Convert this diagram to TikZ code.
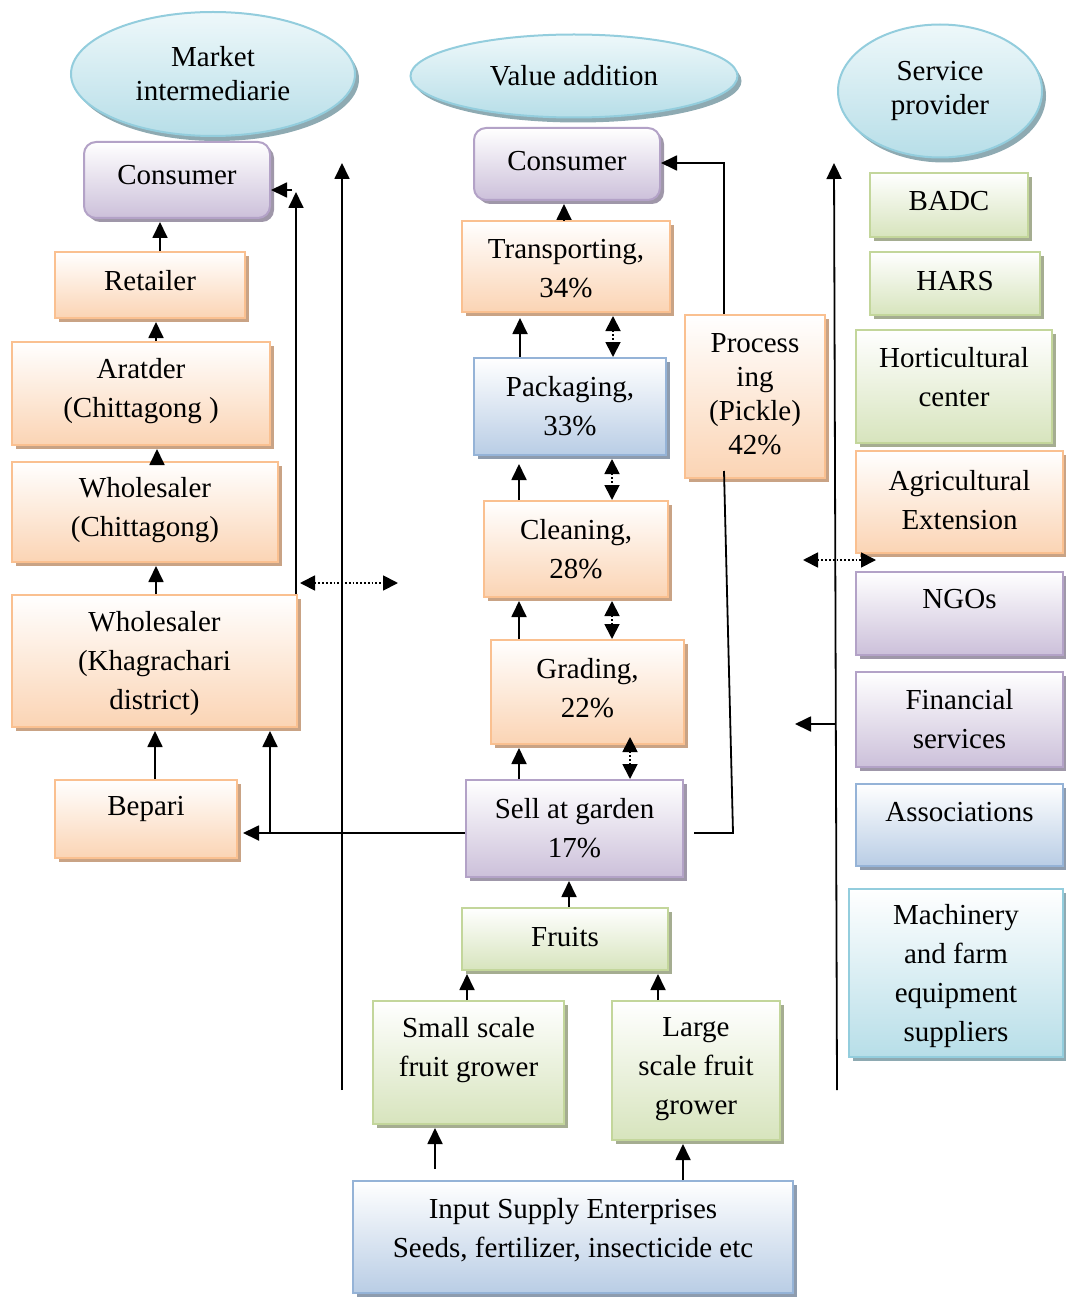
\documentclass[tikz,border=0pt]{standalone}
\usepackage{fontspec}
\setmainfont{Liberation Serif}
\usetikzlibrary{arrows.meta,shapes.geometric,shadows,calc}
\definecolor{orB}{HTML}{FAC090}
\definecolor{orF}{HTML}{FBD4B4}
\definecolor{orS}{HTML}{C9A385}
\definecolor{puB}{HTML}{B3A2C7}
\definecolor{puF}{HTML}{CCC0DA}
\definecolor{puS}{HTML}{9F97A9}
\definecolor{blB}{HTML}{95B3D7}
\definecolor{blF}{HTML}{B9CDE5}
\definecolor{blS}{HTML}{8E9CAE}
\definecolor{grB}{HTML}{C3D69B}
\definecolor{grF}{HTML}{D7E4BD}
\definecolor{grS}{HTML}{A5AD91}
\definecolor{cyB}{HTML}{93CDDD}
\definecolor{cyF}{HTML}{B7DEE8}
\definecolor{cyT}{HTML}{EEF8FA}
\definecolor{cyS}{HTML}{8EAAB2}
\tikzset{
  every node/.style={font=\fontsize{29}{39}\selectfont},
  box/.style={draw, line width=2pt, inner sep=0pt, top color=white},
  obox/.style={box, draw=orB, bottom color=orF, general shadow={shadow xshift=4pt, shadow yshift=-4pt, fill=orS}},
  pbox/.style={box, draw=puB, bottom color=puF, general shadow={shadow xshift=4pt, shadow yshift=-4pt, fill=puS}},
  prbox/.style={pbox, rounded corners=12pt},
  bbox/.style={box, draw=blB, bottom color=blF, general shadow={shadow xshift=4pt, shadow yshift=-4pt, fill=blS}},
  gbox/.style={box, draw=grB, bottom color=grF, general shadow={shadow xshift=4pt, shadow yshift=-4pt, fill=grS}},
  cbox/.style={box, draw=cyB, bottom color=cyF, general shadow={shadow xshift=4pt, shadow yshift=-4pt, fill=cyS}},
  ell/.style={ellipse, draw=cyB, line width=2pt, inner sep=0pt, top color=cyT, bottom color=cyF, align=center,
     general shadow={shadow xshift=4pt, shadow yshift=-5pt, fill=cyS}, font=\fontsize{29}{34}\selectfont},
  txt/.style={align=center, inner sep=0pt},
  arr/.style={line width=1.8pt, -{Triangle[length=16pt,width=15pt]}},
  darr/.style={line width=1.8pt, dotted, {Triangle[length=15pt,width=15pt]}-{Triangle[length=15pt,width=15pt]}},
}
\newcommand\bx[8]{%
  \node[#2, minimum width={(#5-#3)*1pt}, minimum height={(#6-#4)*1pt}] (#1) at ({(#3+#5)/2},{(#4+#6)/2}) {};
  \node[txt] (#1-t) at ({(#3+#5)/2},#7) {#8};
}
\begin{document}
\begin{tikzpicture}[x=1pt,y=-1pt]
\useasboundingbox (0,0) rectangle (1065,1297);
% ellipses
\node[ell, minimum width=284pt, minimum height=124pt] (mk) at (213,74) {Market\\intermediarie};
\node[ell, minimum width=327pt, minimum height=83pt] (va) at (574,76) {Value addition};
\node[ell, minimum width=204pt, minimum height=133pt] (sp) at (940,91) {Service\\provider};
% left column
\bx{consL}{prbox}{84}{142}{270}{218}{175}{Consumer}
\bx{ret}{obox}{55}{252}{245}{318}{281}{Retailer}
\bx{ara}{obox}{12}{342}{270}{445}{391}{Aratder\\(Chittagong )}
\bx{whc}{obox}{12}{462}{278}{562}{510}{Wholesaler\\(Chittagong)}
\bx{whk}{obox}{12}{595}{297}{727}{664}{Wholesaler\\(Khagrachari\\district)}
\bx{bep}{obox}{55}{780}{237}{858}{809}{Bepari}
% middle column
\bx{consM}{prbox}{474}{128}{660}{200}{161}{Consumer}
\bx{tra}{obox}{462}{221}{670}{312}{269}{Transporting,\\34\%}
\bx{pac}{bbox}{474}{358}{666}{455}{406}{Packaging,\\33\%}
\bx{cle}{obox}{484}{501}{668}{597}{549}{Cleaning,\\28\%}
\bx{gra}{obox}{491}{640}{684}{744}{688}{Grading,\\22\%}
\bx{sell}{pbox}{466}{780}{683}{877}{828}{Sell at garden\\17\%}
\bx{fru}{gbox}{462}{908}{668}{970}{937}{Fruits}
\bx{small}{gbox}{373}{1001}{564}{1124}{1050}{Small scale\\fruit grower}
\bx{large}{gbox}{612}{1001}{780}{1140}{1069}{Large\\scale fruit\\grower}
\bx{inp}{bbox}{353}{1181}{793}{1293}{1230}{Input Supply Enterprises\\Seeds, fertilizer, insecticide etc}
\node[obox, minimum width=140pt, minimum height=163pt] (proc) at (755,396.5) {};
\node[txt, font=\fontsize{29}{34}\selectfont] (proc-t) at (755,394) {Process\\ing\\(Pickle)\\42\%};
% right column
\bx{badc}{gbox}{870}{173}{1028}{237}{201}{BADC}
\bx{hars}{gbox}{870}{252}{1040}{315}{281}{HARS}
\bx{hort}{gbox}{856}{330}{1052}{443}{377}{Horticultural\\center}
\bx{agr}{obox}{856}{451}{1063}{553}{500}{Agricultural\\Extension}
\bx{ngo}{pbox}{856}{572}{1063}{655}{599}{NGOs}
\bx{fin}{pbox}{856}{672}{1063}{767}{719}{Financial\\services}
\bx{ass}{bbox}{856}{784}{1063}{866}{812}{Associations}
\bx{mach}{cbox}{849}{889}{1063}{1057}{976}{Machinery\\and farm\\equipment\\suppliers}
% free coordinates
\coordinate (c1) at (296,192);
\coordinate (c2) at (292,190);
\coordinate (l1a) at (342,1090);
\coordinate (l1b) at (342,163);
\coordinate (d1a) at (300,583);
\coordinate (d1b) at (398,583);
\coordinate (j1) at (270,833);
\coordinate (p1) at (724,163);
\coordinate (p2) at (733,833);
\coordinate (r1a) at (837,1090);
\coordinate (r1b) at (834,163);
\coordinate (d2a) at (803,560);
\coordinate (d2b) at (876,560);
\coordinate (r2) at (835,724);
\coordinate (r3) at (795,724);
% left connectors
\draw[arr, shorten >=3pt] (160,0 |- ret.north) -- (160,0 |- consL.south);
\draw[arr, shorten >=3pt] (156,0 |- ara.north) -- (156,0 |- ret.south);
\draw[arr, shorten >=3pt] (157,0 |- whc.north) -- (157,0 |- ara.south);
\draw[arr, shorten >=3pt] (156,0 |- whk.north) -- (156,0 |- whc.south);
\draw[arr, shorten >=3pt] (155,0 |- bep.north) -- (155,0 |- whk.south);
\draw[arr] (296,0 |- whk.north) -- (c1);
\draw[arr] (c2) -- (consL.east |- c2);
\draw[arr] (l1a) -- (l1b);
\draw[darr] (d1a) -- (d1b);
\draw[arr, shorten >=5pt] (sell.west |- j1) -- (bep.east |- j1);
\draw[arr, shorten >=3pt] (j1) -- (j1 |- whk.south);
% middle connectors
\draw[arr, shorten >=3pt] (564,0 |- tra.north) -- (564,0 |- consM.south);
\draw[arr, shorten >=5pt] (520,0 |- pac.north) -- (520,0 |- tra.south);
\draw[darr, shorten <=3pt] (613,0 |- tra.south) -- (613,0 |- pac.north);
\draw[arr, shorten >=8pt] (519,0 |- cle.north) -- (519,0 |- pac.south);
\draw[darr, shorten <=3pt] (612,0 |- pac.south) -- (612,0 |- cle.north);
\draw[arr, shorten >=3pt] (519,0 |- gra.north) -- (519,0 |- cle.south);
\draw[darr, shorten <=3pt] (612,0 |- cle.south) -- (612,0 |- gra.north);
\draw[arr, shorten >=3pt] (519,0 |- sell.north) -- (519,0 |- gra.south);
\draw[darr, shorten <=-8pt] (630,0 |- gra.south) -- (630,0 |- sell.north);
\draw[arr, shorten >=3pt] (569,0 |- fru.north) -- (569,0 |- sell.south);
\draw[arr, shorten >=3pt] (467,0 |- small.north) -- (467,0 |- fru.south);
\draw[arr, shorten >=3pt] (658,0 |- large.north) -- (658,0 |- fru.south);
\draw[arr, shorten >=3pt] ($(435,0 |- inp.north)+(0,-11)$) -- (435,0 |- small.south);
\draw[arr, shorten >=3pt] (683,0 |- inp.north) -- (683,0 |- large.south);
\draw[arr] (p1 |- proc.north) -- (p1) -- (consM.east |- p1);
\draw[line width=1.8pt] ($(p1 |- proc.south)+(0,-8)$) -- (p2) -- ($(sell.east |- p2)+(10,0)$);
% right connectors
\draw[arr] (r1a) -- (r1b);
\draw[darr] (d2a) -- (d2b);
\draw[arr] (r2) -- (r3);
\end{tikzpicture}
\end{document}
